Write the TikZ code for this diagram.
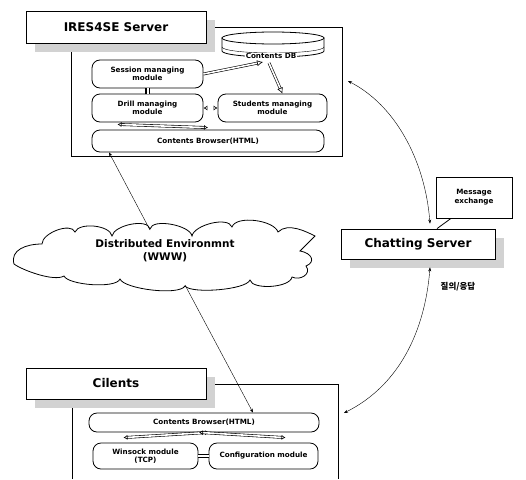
\documentclass[tikz,border=0pt]{standalone}
\usepackage{fontspec}
\setmainfont{DejaVu Sans}
\newfontfamily\krfont{Noto Sans CJK KR}
\usepackage{tikz}
\usetikzlibrary{positioning, shadows, arrows.meta}

\begin{document}
\begin{tikzpicture}[x=1pt, y=-1pt,
    titlebox/.style={draw, thick, fill=white, font=\bfseries\fontsize{12}{14}\selectfont,
        drop shadow={shadow xshift=9pt, shadow yshift=-9pt, fill=gray!35, opacity=1}},
    module/.style={draw, thick, rounded corners=8pt, fill=white, align=center,
        font=\bfseries\fontsize{7.2}{8.2}\selectfont, inner sep=1pt},
    note/.style={draw, thick, fill=white, align=center, font=\bfseries\fontsize{7.2}{9}\selectfont},
    hollow/.style={draw, double, double distance=1.6pt, line width=0.6pt},
    hollowtip/.style={-{Latex[open, length=6pt, width=6pt]}},
    hollowboth/.style={{Latex[open, length=4pt, width=5pt]}-{Latex[open, length=4pt, width=5pt]}},
    link/.style={draw, thin, {Stealth[length=4pt, width=3pt]}-{Stealth[length=4pt, width=3pt]}},
]
    \useasboundingbox (0,0) rectangle (526,479);

    % IRES4SE server
    \path[draw, thick] (71,27) rectangle (342,156);
    \node[titlebox, minimum width=180pt, minimum height=32pt] (srvtitle) at (116,27) {IRES4SE Server};

    % contents DB disk
    \path[draw, thick, fill=white] (222,38) -- (222,51) arc[start angle=180, end angle=0, x radius=51, y radius=6] -- (324,38) -- cycle;
    \path[draw] (222,47) arc[start angle=180, end angle=0, x radius=51, y radius=6];
    \path[draw, thick, fill=white] (273,38) ellipse [x radius=51, y radius=6];
    \node[font=\bfseries\fontsize{7.2}{8}\selectfont, fill=white, inner sep=0.5pt] (db) at (271,56) {Contents DB};
    \coordinate (dbin) at (263,62);
    \coordinate (dbout) at (269,63);

    \node[module, minimum width=111pt, minimum height=28pt] (session) at (147.5,74) {Session managing\\module};
    \node[module, minimum width=111pt, minimum height=28pt] (drill) at (147.5,108) {Drill managing\\module};
    \node[module, minimum width=109pt, minimum height=28pt] (students) at (272.5,108) {Students managing\\module};
    \node[module, minimum width=232pt, minimum height=22pt] (browsers) at (208,141) {Contents Browser(HTML)};

    \path[hollow, hollowtip] (session.east) -- (dbin);
    \path[hollow, hollowtip] (dbout) -- ([xshift=10pt]students.north);
    \path[hollow, line width=1.5pt, double distance=2pt] (session.south) -- (drill.north);
    \path[hollow, hollowboth] (drill.east) -- (students.west);
    \path[hollow, hollowboth] ([xshift=-30pt, yshift=-2pt]drill.south) -- ([yshift=2pt]browsers.north);

    % distributed environment (cloud)
    \path[draw, thick, fill=white] (14,264)
        .. controls +(-4,-14) and +(-16,0) .. (42,244)
        .. controls +(0,-11) and +(-4,-10) .. (75,232)
        .. controls +(4,-10) and +(-2,-11) .. (112,236)
        .. controls +(2,-11) and +(-2,-11) .. (150,229)
        .. controls +(2,-11) and +(-2,-11) .. (192,236)
        .. controls +(2,-11) and +(-4,-11) .. (232,227)
        .. controls +(4,-12) and +(-4,-12) .. (278,232)
        .. controls +(10,-10) and +(-8,-4) .. (315,236)
        .. controls +(-6,6) and +(4,-4) .. (300,251)
        .. controls +(12,2) and +(10,-4) .. (306,266)
        .. controls +(6,8) and +(8,4) .. (292,277)
        .. controls +(-2,11) and +(2,10) .. (250,280)
        .. controls +(-4,10) and +(6,8) .. (185,286)
        .. controls +(-6,10) and +(4,10) .. (120,279)
        .. controls +(-4,10) and +(4,9) .. (64,276)
        .. controls +(-10,6) and +(8,6) .. cycle;
    \node[align=center, font=\bfseries\fontsize{10.5}{13}\selectfont] (www) at (165,251) {Distributed Environmnt\\(WWW)};
    \coordinate (wwwtop) at (150,230);
    \coordinate (wwwbot) at (185,285);

    % chatting server
    \node[titlebox, minimum width=154pt, minimum height=30pt] (chat) at (418,244) {Chatting Server};
    \node[note, minimum width=76pt, minimum height=41pt] (msg) at (474,197.5) {Message\\exchange};
    \path[draw, thick] ([xshift=19pt]chat.north) -- ([xshift=-23pt]msg.south);
    \node[font=\krfont\bfseries\fontsize{8.5}{10}\selectfont] (qa) at (458,287) {질의/응답};

    % clients
    \path[draw, thick] (72,479) -- (72,384) -- (338,384) -- (338,479);
    \node[titlebox, minimum width=180pt, minimum height=31pt] (clititle) at (116,383.5) {Cilents};

    \node[module, minimum width=230pt, minimum height=19pt] (browserc) at (204,422.5) {Contents Browser(HTML)};
    \node[module, minimum width=105pt, minimum height=26pt] (winsock) at (145.5,456) {Winsock module\\(TCP)};
    \node[module, minimum width=109pt, minimum height=26pt] (config) at (263.5,456) {Configuration module};

    \path[hollow, hollowboth] ([xshift=-22pt, yshift=5pt]winsock.north) -- ([xshift=5pt]browserc.south);
    \path[hollow, hollowboth] ([xshift=22pt, yshift=5pt]config.north) -- ([xshift=-5pt]browserc.south);
    \path[hollow, line width=1.2pt] (winsock.east) -- (config.west);

    % network links
    \path[draw, thin, -{Stealth[length=4pt, width=3pt]}] (wwwtop) -- ([xshift=-99pt]browsers.south);
    \path[draw, thin, -{Stealth[length=4pt, width=3pt]}] (wwwbot) -- ([xshift=49pt]browserc.north);
    \coordinate (srvport) at (348,81);
    \coordinate (cliport) at (344,413);
    \path[link] (srvport) .. controls (395,105) and (425,160) .. ([xshift=12pt, yshift=5pt]chat.north);
    \path[link] ([xshift=12pt, yshift=-8pt]chat.south) .. controls (425,330) and (400,385) .. (cliport);

\end{tikzpicture}
\end{document}
